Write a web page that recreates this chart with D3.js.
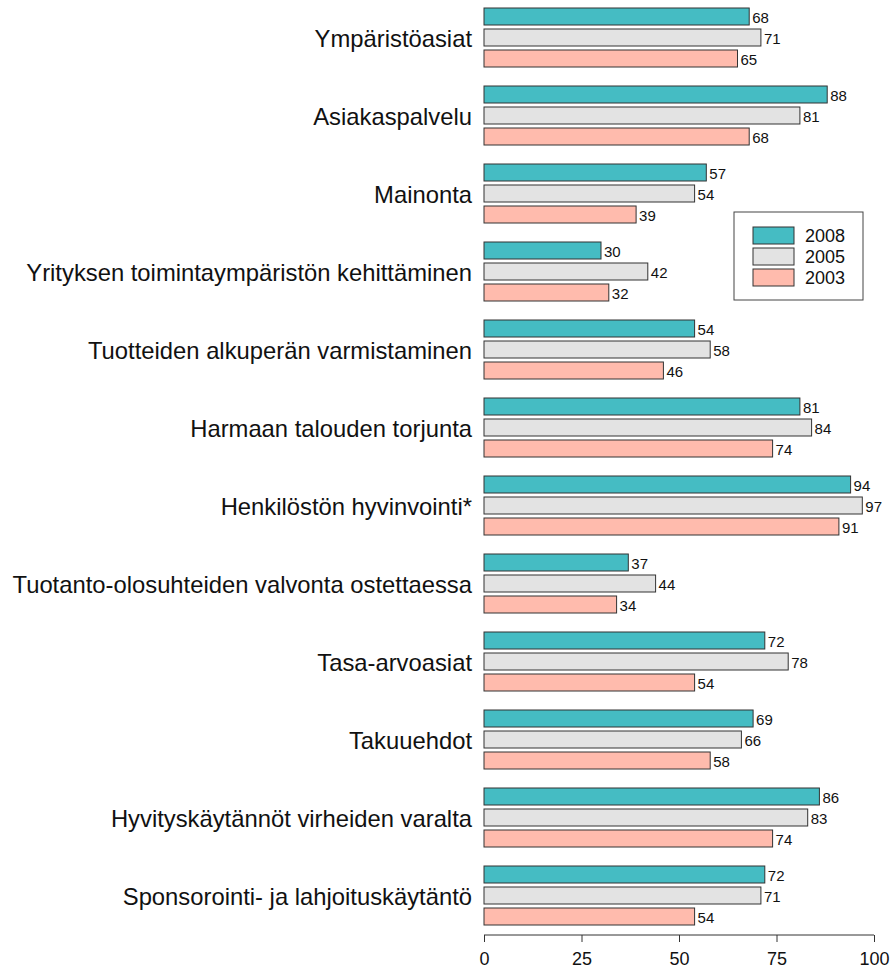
<!DOCTYPE html>
<html>
<head>
<meta charset="utf-8">
<script src="https://cdn.jsdelivr.net/npm/d3@7"></script>
<style>
  body { margin: 0; background: #fff; }
  svg { display: block; font-family: "Liberation Sans", Arial, sans-serif; }
</style>
</head>
<body>
<div id="chart"></div>
<script>
const width = 892;
const height = 970;

const categories = [
    'Ympäristöasiat',
    'Asiakaspalvelu',
    'Mainonta',
    'Yrityksen toimintaympäristön kehittäminen',
    'Tuotteiden alkuperän varmistaminen',
    'Harmaan talouden torjunta',
    'Henkilöstön hyvinvointi*',
    'Tuotanto-olosuhteiden valvonta ostettaessa',
    'Tasa-arvoasiat',
    'Takuuehdot',
    'Hyvityskäytännöt virheiden varalta',
    'Sponsorointi- ja lahjoituskäytäntö'
]

const years = ['2008', '2005', '2003']

const values2008 = [68, 88, 57, 30, 54, 81, 94, 37, 72, 69, 86, 72]
const values2005 = [71, 81, 54, 42, 58, 84, 97, 44, 78, 66, 83, 71]
const values2003 = [65, 68, 39, 32, 46, 74, 91, 34, 54, 58, 74, 54]

const xTicks = [0, 25, 50, 75, 100]

const colors = { '2008': '#45bcc3', '2005': '#e3e3e3', '2003': '#ffbbad' }

const series = { '2008': values2008, '2005': values2005, '2003': values2003 }

const rows = categories.map((c, i) => ({
    name: c,
    vals: years.map(y => ({ year: y, value: series[y][i] }))
}))

const svg = d3.select('#chart')
    .append('svg')
    .attr('width', width)
    .attr('height', height)

const x = d3.scaleLinear()
    .domain([0, 100])
    .range([484, 874])

const y = d3.scaleBand()
    .domain(categories)
    .range([8, 8 + 78 * categories.length])

const yInner = d3.scaleBand()
    .domain(years)
    .range([0, 59])
    .paddingInner(4 / 21)

const group = svg.selectAll('g.row')
    .data(rows)
    .enter().append('g')
    .attr('class', 'row')
    .attr('transform', d => `translate(0,${y(d.name)})`)

group.append('text')
    .attr('x', 472)
    .attr('y', yInner('2005') + yInner.bandwidth() / 2 + 1.5)
    .attr('dy', '0.35em')
    .attr('text-anchor', 'end')
    .attr('font-size', 23.8)
    .attr('fill', '#111')
    .text(d => d.name)

group.selectAll('rect')
    .data(d => d.vals)
    .enter().append('rect')
    .attr('x', x(0))
    .attr('y', d => yInner(d.year))
    .attr('width', d => x(d.value) - x(0))
    .attr('height', yInner.bandwidth())
    .attr('fill', d => colors[d.year])
    .attr('stroke', '#333')
    .attr('stroke-width', 1)

group.selectAll('text.val')
    .data(d => d.vals)
    .enter().append('text')
    .attr('class', 'val')
    .attr('x', d => x(d.value) + 3)
    .attr('y', d => yInner(d.year) + yInner.bandwidth() / 2 + 1.5)
    .attr('dy', '0.35em')
    .attr('font-size', 15)
    .attr('fill', '#111')
    .text(d => d.value)

// axis
const axis = svg.append('g')
    .attr('transform', 'translate(0,935)')
    .call(d3.axisBottom(x).tickValues(xTicks).tickSize(7).tickPadding(10))

axis.select('.domain').attr('stroke', '#333').attr('d', `M${x(0)},0H${x(100)}`)
axis.selectAll('.tick line').attr('stroke', '#333')
axis.selectAll('.tick text')
    .attr('font-size', 18)
    .attr('fill', '#111')
    .attr('font-family', '"Liberation Sans", Arial, sans-serif')

// legend
const legend = svg.append('g')
    .attr('transform', 'translate(734,212)')

legend.append('rect')
    .attr('width', 129)
    .attr('height', 88)
    .attr('fill', '#fff')
    .attr('stroke', '#444')

const legItem = legend.selectAll('g.item')
    .data(years)
    .enter().append('g')
    .attr('class', 'item')
    .attr('transform', (d, i) => `translate(19,${15 + i * 21})`)

legItem.append('rect')
    .attr('width', 41)
    .attr('height', 17)
    .attr('fill', d => colors[d])
    .attr('stroke', '#333')

legItem.append('text')
    .attr('x', 52)
    .attr('y', 9)
    .attr('dy', '0.35em')
    .attr('font-size', 18)
    .attr('fill', '#111')
    .text(d => d)
</script>
</body>
</html>
